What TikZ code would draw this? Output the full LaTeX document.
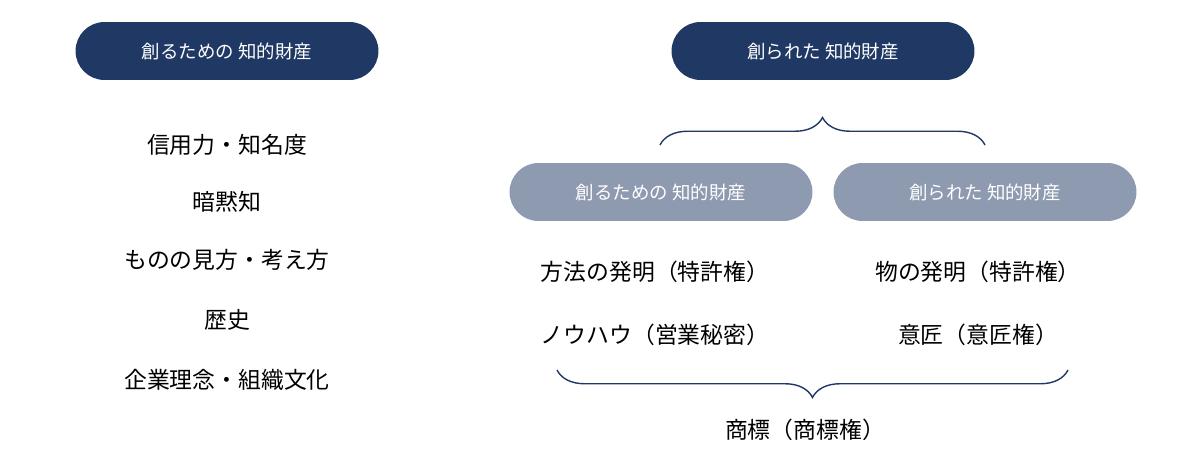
\documentclass[tikz,border=0pt]{standalone}
\usepackage{fontspec}
\setmainfont{Noto Sans CJK JP}
\usetikzlibrary{decorations.pathreplacing}
\definecolor{navy}{HTML}{1F3864}
\definecolor{slate}{HTML}{8E9AB0}
\begin{document}
\begin{tikzpicture}[x=0.02cm,y=-0.02cm,
    every node/.style={anchor=center},
    darkpill/.style={fill=navy, text=white, rounded corners=0.58cm, minimum width=6.06cm, minimum height=1.16cm, font=\fontsize{10.5}{12}\selectfont},
    greypill/.style={darkpill, fill=slate},
    item/.style={font=\fontsize{13}{15}\selectfont, text=black},
    brace/.style={draw=navy, line width=0.8pt, decorate, decoration={brace, amplitude=0.55cm}}
    ]
\useasboundingbox (0,0) rectangle (1200,462);

% Left column
\node[darkpill] (Make Title) at (227,51) {創るための 知的財産};
\node[item] (trust) at (227,145) {信用力・知名度};
\node[item] (tacit) at (227,202) {暗黙知};
\node[item] (view) at (227,260) {ものの見方・考え方};
\node[item] (history) at (227,320) {歴史};
\node[item] (culture) at (227,380) {企業理念・組織文化};

% Right side
\node[darkpill] (Made Title) at (823,51) {創られた 知的財産};
\node[greypill] (Make Sub) at (661,192) {創るための 知的財産};
\node[greypill] (Made Sub) at (985,192) {創られた 知的財産};

\coordinate (top l) at (660,145);
\coordinate (top r) at (985,145);
\draw[brace] (top l) to (top r);

\node[item] (method) at (655,272) {方法の発明（特許権）};
\node[item] (knowhow) at (655,335) {ノウハウ（営業秘密）};
\node[item] (thing) at (978,272) {物の発明（特許権）};
\node[item] (design) at (978,335) {意匠（意匠権）};

\coordinate (bot l) at (557,370);
\coordinate (bot r) at (1068,370);
\draw[brace] (bot r) to (bot l);
\node[item] (mark) at (805,430) {商標（商標権）};

\end{tikzpicture}
\end{document}
